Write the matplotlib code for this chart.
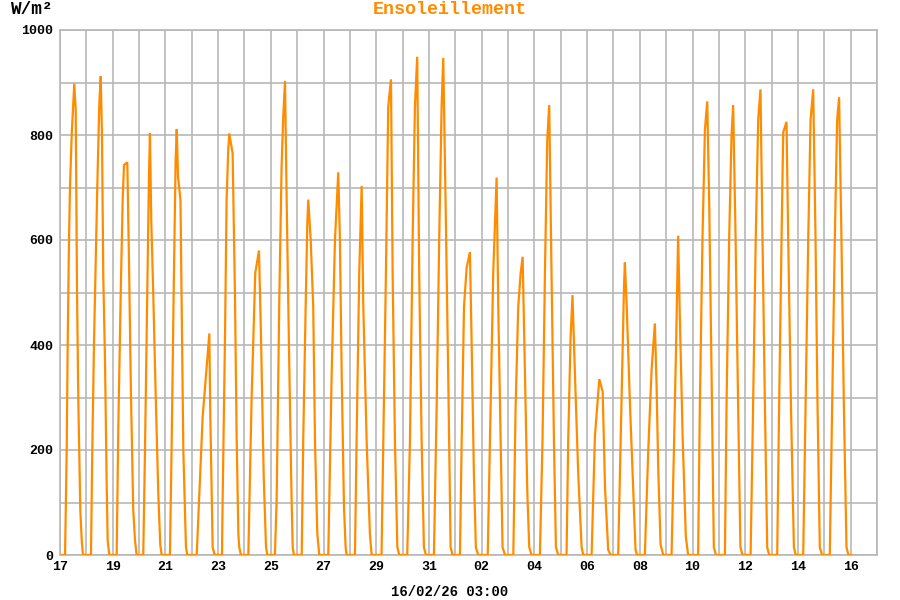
import matplotlib
matplotlib.use("Agg")
import matplotlib.pyplot as plt
from matplotlib.ticker import MultipleLocator

title = "Ensoleillement"
y_unit = "W/m²"
x_caption = "16/02/26 03:00"
x_tick_labels = ["17", "19", "21", "23", "25", "27", "29", "31",
                 "02", "04", "06", "08", "10", "12", "14", "16"]
y_tick_labels = ["0", "200", "400", "600", "800", "1000"]

# sample hours per day (day 0 = 17 Jan) and irradiance in W/m2
hours_by_day = [
    [1.7, 4.6, 6.1, 7.0, 8.2, 9.1, 10.7, 13.0, 14.3, 15.5, 16.7, 18.5, 19.8, 20.9],
    [4.2, 5.4, 6.95, 9.96, 11.8, 13.1, 14.24, 15.42, 16.97, 18.5, 19.4, 20.9],
    [3.6, 5.1, 7.3, 9.1, 10.3, 13.3, 14.8, 16.6, 18.7, 20.3, 21.8],
    [3.8, 5.4, 7.5, 9.0, 9.9, 11.1, 12.9, 15.1, 17.5, 19.3, 20.6],
    [4.1, 5.6, 7.5, 9.3, 10.3, 11.5, 13.7, 14.8, 16.3, 18.7, 19.9],
    [4.5, 9.9, 13.6, 16.0, 16.8, 19.0, 20.9],
    [3.5, 4.1, 6.3, 7.7, 9.2, 10.15, 13.2, 15.4, 16.8, 18.4, 19.2, 20.8],
    [3.5, 6.5, 9.8, 13.2, 15.0, 17.5, 19.6, 20.8],
    [3.7, 5.3, 7.7, 9.8, 11.3, 12.9, 14.4, 16.8, 18.9, 19.9, 21.0],
    [4.1, 5.5, 7.7, 9.2, 10.1, 12.3, 14.6, 16.2, 18.3, 20.1],
    [4.3, 7.4, 10.4, 13.4, 14.9, 16.5, 18.6, 20.1, 21.0],
    [4.6, 6.1, 8.5, 10.7, 12.2, 15.2, 18.2, 19.8],
    [4.8, 6.4, 8.8, 10.9, 13.4, 14.9, 17.0, 19.2, 20.9],
    [4.2, 6.7, 9.1, 11.2, 13.3, 15.1, 17.3, 19.4, 21.2],
    [4.5, 7.0, 9.3, 11.5, 13.0, 15.2, 17.5, 19.7, 21.5],
    [4.2, 5.8, 7.9, 10.3, 13.3, 14.8, 16.9, 18.7, 20.8],
    [5.5, 7.5, 10.5, 13.6, 15.1, 17.3, 19.0, 21.2],
    [4.8, 6.9, 9.3, 11.5, 13.3, 15.4, 17.5, 19.3, 21.4],
    [5.0, 7.4, 9.6, 11.7, 13.5, 15.6, 17.8, 19.6, 21.7],
    [5.3, 6.8, 8.9, 10.7, 12.9, 15.9, 19.0, 20.5],
    [4.1, 7.1, 11.1, 14.2, 16.3, 19.2, 21.4],
    [4.3, 7.4, 9.6, 10.4, 12.0, 15.0, 17.9, 20.1, 21.5],
    [4.6, 7.6, 10.7, 13.7, 15.3, 16.8, 18.9, 21.3],
    [4.9, 7.0, 8.9, 10.9, 12.5, 15.0, 17.9, 20.0],
    [5.1, 6.7, 9.1, 11.3, 13.4, 15.2, 17.3, 19.4, 21.3],
    [5.5, 7.0, 9.4, 11.5, 13.0, 15.2, 17.5, 19.6, 21.5],
    [4.9, 7.2, 9.6, 11.8, 13.9, 15.7, 17.9, 20.0, 21.8],
    [5.1, 6.9, 9.1, 10.6, 13.6, 15.1, 17.6, 20.3, 22.0],
    [4.8, 7.0, 9.4, 11.5, 13.9, 16.0, 17.8, 19.9, 22.0],
    [5.0, 7.2, 9.6, 11.7, 13.5, 15.6, 17.8, 20.2, 22.0, 24.7],
]
wm2_by_day = [
    [0, 0, 200, 403, 600, 702, 803, 898, 848, 500, 290, 85, 28, 0],
    [0, 200, 403, 702, 860, 912, 797, 530, 371, 137, 28, 0],
    [0, 244, 499, 680, 743, 748, 562, 308, 86, 28, 0],
    [0, 200, 499, 721, 803, 638, 499, 308, 117, 20, 0],
    [0, 200, 499, 752, 811, 720, 676, 473, 200, 15, 0],
    [0, 263, 359, 422, 276, 15, 0],
    [0, 105, 422, 676, 771, 803, 765, 486, 232, 41, 15, 0],
    [0, 300, 537, 580, 420, 150, 15, 0],
    [0, 105, 486, 740, 835, 903, 676, 359, 105, 15, 0],
    [0, 219, 473, 632, 677, 600, 473, 219, 41, 0],
    [0, 346, 600, 729, 600, 346, 92, 15, 0],
    [0, 219, 537, 703, 473, 219, 41, 0],
    [0, 219, 537, 854, 906, 537, 219, 15, 0],
    [0, 219, 600, 854, 949, 537, 219, 15, 0],
    [0, 282, 600, 854, 947, 663, 346, 15, 0],
    [0, 219, 473, 547, 577, 410, 156, 15, 0],
    [0, 219, 537, 719, 473, 219, 15, 0],
    [0, 282, 473, 537, 568, 346, 124, 15, 0],
    [0, 219, 537, 790, 857, 537, 219, 15, 0],
    [0, 219, 410, 495, 346, 156, 15, 0],
    [0, 225, 335, 311, 130, 10, 0],
    [0, 302, 511, 557, 479, 289, 130, 10, 0],
    [0, 194, 352, 441, 321, 162, 20, 0],
    [0, 194, 384, 608, 448, 225, 35, 0],
    [0, 289, 606, 810, 864, 670, 352, 15, 0],
    [0, 289, 606, 797, 857, 606, 289, 15, 0],
    [0, 289, 606, 829, 887, 606, 289, 15, 0],
    [0, 289, 606, 805, 825, 606, 289, 15, 0],
    [0, 289, 606, 829, 887, 606, 289, 15, 0],
    [0, 289, 606, 829, 872, 606, 289, 15, 0, 0],
]

x = []
y = []
for d, (hs, vs) in enumerate(zip(hours_by_day, wm2_by_day)):
    for h, v in zip(hs, vs):
        x.append(d + h / 24.0)
        y.append(v)

MONO = ["Liberation Mono", "DejaVu Sans Mono"]
ORANGE = "#ff8c00"
GRID = "#b8b8b8"

fig = plt.figure(figsize=(9, 6), dpi=100)
ax = fig.add_axes([60 / 900, 1 - 555 / 600, 817 / 900, 525 / 600])

ax.plot(x, y, color=ORANGE, linewidth=1.6, solid_joinstyle="miter", zorder=3)

ax.set_xlim(0, 31)
ax.set_ylim(0, 1000)
ax.xaxis.set_minor_locator(MultipleLocator(1))
ax.yaxis.set_minor_locator(MultipleLocator(100))
ax.set_xticks(range(0, 31, 2))
ax.set_xticklabels(x_tick_labels)
ax.set_yticks(range(0, 1001, 200))
ax.set_yticklabels(y_tick_labels)

ax.grid(True, which="both", color=GRID, linewidth=1.2, zorder=0)
ax.set_axisbelow(True)
ax.tick_params(which="both", length=0)
ax.tick_params(axis="x", pad=4)
ax.tick_params(axis="y", pad=5)
for lab in ax.get_xticklabels() + ax.get_yticklabels():
    lab.set_fontfamily(MONO)
    lab.set_fontweight("bold")
    lab.set_fontsize(9.5)
for s in ax.spines.values():
    s.set_color(GRID)
    s.set_linewidth(1.2)

fig.text(0.5, 1 - 10 / 600, title, color=ORANGE, fontsize=13.2,
         fontweight="bold", family=MONO, ha="center", va="center")
fig.text(10 / 900, 1 - 10 / 600, y_unit, color="black", fontsize=12.8,
         fontweight="bold", family=MONO, ha="left", va="center")
fig.text(450 / 900, 1 - 592 / 600, x_caption, color="black", fontsize=10,
         fontweight="bold", family=MONO, ha="center", va="center")

fig.savefig("out.png", dpi=100)
